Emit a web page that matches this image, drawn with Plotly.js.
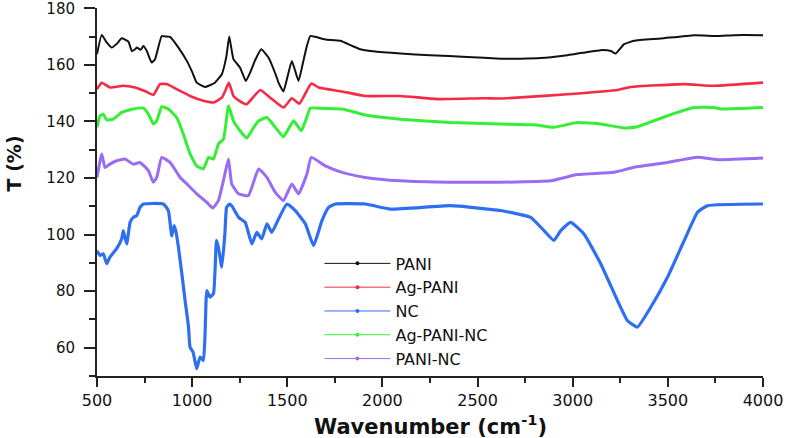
<!DOCTYPE html>
<html>
<head>
<meta charset="utf-8">
<script src="https://cdn.plot.ly/plotly-3.0.1.min.js"></script>
<style>html,body{margin:0;padding:0;background:#fff;}#chart{width:790px;height:438px;}</style>
</head>
<body>
<div id="chart"></div>
<script>
// ---- Data ----
const seriesNames = ["PANI", "Ag-PANI", "NC", "Ag-PANI-NC", "PANI-NC"];

const paniX = [500,525,550,577,605,630,665,683,700,709,730,744,762,787,805,840,860,884,928,972,1000,1024,1068,1100,1120,1156,1180,1195,1217,1252,1282,1305,1330,1363,1401,1445,1454,1480,1500,1524,1559,1580,1603,1621,1647,1700,1779,1840,1884,1950,2095,2250,2446,2621,2726,2832,2950,3059,3146,3200,3226,3270,3323,3463,3638,3761,3850,4000];
const paniY = [163.8,170.6,168.0,166.1,167.5,169.4,168.2,164.9,165.5,166.1,165.3,166.7,164.9,160.8,162.0,170.2,170.0,169.9,166.1,161.4,157.5,153.7,152.2,153.0,153.7,156.7,163.0,170.0,162.0,159.0,154.3,157.3,161.5,165.5,162.6,155.5,153.7,150.6,155.5,161.4,154.3,160.0,166.7,170.2,169.9,169.0,168.5,166.7,165.5,164.8,164.0,163.4,162.8,162.2,162.2,162.4,163.2,164.3,165.2,164.9,164.0,167.3,168.5,169.3,170.5,170.2,170.5,170.5];

const agPaniX = [500,525,568,638,700,726,760,796,831,866,919,989,1059,1112,1156,1175,1193,1217,1250,1287,1320,1358,1419,1480,1524,1563,1600,1626,1665,1788,1910,2095,2288,2533,2621,2726,2972,3235,3305,3586,3744,4000];
const agPaniY = [151.4,153.7,152.0,152.6,152.0,151.4,150.5,149.4,153.2,153.2,151.4,149.0,147.3,146.7,148.4,151.0,153.7,149.0,147.2,146.1,148.5,151.1,147.9,144.9,148.2,146.3,150.5,153.4,152.0,150.6,149.0,149.0,147.9,148.2,148.1,148.5,149.6,151.1,152.2,153.2,152.6,153.7];

const ncX = [500,516,533,551,568,603,630,638,656,674,691,709,726,744,849,875,893,905,915,928,946,963,981,989,1005,1024,1042,1059,1068,1077,1093,1112,1128,1138,1156,1172,1181,1196,1208,1244,1279,1314,1340,1366,1393,1419,1454,1498,1542,1595,1638,1682,1717,1753,1910,2042,2358,2621,2779,2849,2901,2937,2989,3059,3147,3235,3287,3340,3410,3498,3586,3656,3708,4000];
const ncY = [94.3,92.6,93.2,89.7,92.0,95.0,98.5,101.4,96.7,104.3,106.1,106.7,109.6,110.8,110.8,108.5,99.5,103.2,101.0,95.5,86.1,76.7,67.3,60.2,58.4,52.6,56.7,55.5,65.0,80.2,77.9,79.1,98.0,95.5,88.5,100.2,109.6,110.8,110.2,106.1,104.3,96.7,100.8,98.5,103.8,100.8,105.5,110.8,108.5,103.8,96.1,104.9,109.6,110.8,110.8,109.0,110.2,108.5,106.1,101.4,97.9,101.4,104.3,100.2,89.7,76.7,69.6,67.3,74.3,84.9,97.9,107.9,110.2,110.8];

const agPaniNcX = [500,516,533,551,586,630,691,744,770,796,814,840,875,919,954,989,1024,1059,1086,1112,1138,1165,1191,1217,1252,1287,1320,1349,1393,1437,1480,1533,1574,1600,1621,1665,1788,1910,2095,2358,2621,2796,2901,3024,3147,3270,3340,3498,3638,3744,3779,4000];
const agPaniNcY = [137.9,142.0,142.6,140.5,140.8,143.2,144.4,144.7,142.6,139.1,140.2,145.2,144.4,141.4,135.5,128.5,124.3,123.2,127.3,126.7,132.0,133.8,145.5,140.2,136.7,134.1,137.5,140.2,141.4,137.9,134.6,140.2,136.7,141.0,144.7,144.7,144.4,142.3,140.8,139.6,139.1,138.8,137.9,139.6,139.1,137.7,138.1,142.0,144.9,144.9,144.4,144.9];

const paniNcX = [500,525,542,568,603,647,691,726,770,796,814,840,884,937,972,1024,1077,1108,1138,1172,1191,1208,1244,1296,1349,1393,1437,1480,1524,1559,1603,1626,1700,1788,1910,2095,2358,2621,2884,3024,3217,3323,3498,3656,3761,4000];
const paniNcY = [120.2,128.5,123.7,124.9,126.1,126.7,124.9,125.5,122.6,118.5,120.2,127.3,125.5,120.2,117.9,114.4,111.4,109.4,112.0,121.4,126.7,117.9,114.4,113.8,123.2,120.2,114.9,112.0,117.9,114.4,121.4,127.3,124.3,122.0,120.2,119.0,118.5,118.5,119.0,121.2,122.0,123.8,125.5,127.3,126.5,127.1];

const xTicks = [500,1000,1500,2000,2500,3000,3500,4000];
const yTicks = [60,80,100,120,140,160,180];

// ---- Styles ----
const colors = {"PANI":"#111111","Ag-PANI":"#f52a45","NC":"#2e6ff2","Ag-PANI-NC":"#35ee35","PANI-NC":"#9a6cf2"};
const widths = {"PANI":2,"Ag-PANI":2.6,"NC":3.2,"Ag-PANI-NC":3,"PANI-NC":3};
const dataMap = {
  "PANI":[paniX,paniY],
  "Ag-PANI":[agPaniX,agPaniY],
  "NC":[ncX,ncY],
  "Ag-PANI-NC":[agPaniNcX,agPaniNcY],
  "PANI-NC":[paniNcX,paniNcY]
};
const drawOrder = ["NC","PANI-NC","Ag-PANI-NC","Ag-PANI","PANI"];
const traces = [];
drawOrder.forEach(n => {
  traces.push({x:dataMap[n][0], y:dataMap[n][1], type:'scatter', mode:'lines', name:n,
    line:{color:colors[n], width:widths[n], shape:'spline', smoothing:0.4}, showlegend:false, hoverinfo:'skip'});
});
// legend entries (thin line + small marker like the reference)
seriesNames.forEach(n => {
  traces.push({x:[null], y:[null], type:'scatter', mode:'lines+markers', name:n,
    line:{color:colors[n], width:1}, marker:{color:colors[n], size:4}, showlegend:true});
});

const FONT = 'DejaVu Sans, Liberation Sans, Arial, sans-serif';
const layout = {
  width:790, height:438,
  margin:{l:97, r:27, t:8, b:62, pad:0},
  paper_bgcolor:'#ffffff', plot_bgcolor:'#ffffff',
  showlegend:true,
  legend:{x:0.334, y:0.352, xanchor:'left', yanchor:'top', bgcolor:'rgba(0,0,0,0)',
    font:{family:FONT, size:16, color:'#111'}, itemwidth:66, tracegroupgap:0},
  xaxis:{range:[500,4000], tickvals:xTicks, ticktext:xTicks.map(String),
    showgrid:false, zeroline:false, showline:true, linewidth:2, linecolor:'#222',
    ticks:'outside', ticklen:9, tickwidth:2, tickcolor:'#222', ticklabeloverflow:'allow',
    minor:{dtick:250, tick0:500, ticks:'outside', ticklen:5, tickwidth:2, tickcolor:'#222'},
    tickfont:{family:FONT, size:16, color:'#111'}},
  yaxis:{range:[50,180.1], tickvals:yTicks, ticktext:yTicks.map(String),
    showgrid:false, zeroline:false, showline:true, linewidth:2, linecolor:'#222',
    ticks:'outside', ticklen:11, tickwidth:2, tickcolor:'#222', ticklabelstandoff:6,
    ticklabeloverflow:'allow',
    minor:{dtick:10, tick0:50, ticks:'outside', ticklen:6, tickwidth:2, tickcolor:'#222'},
    tickfont:{family:FONT, size:15, color:'#111'}},
  annotations:[
    {text:'<b>Wavenumber (cm<sup>-1</sup>)</b>', xref:'paper', yref:'paper', x:0.5, y:-0.132,
      xanchor:'center', yanchor:'middle', showarrow:false, font:{family:FONT, size:21, color:'#111'}},
    {text:'<b>T (%)</b>', xref:'paper', yref:'paper', x:-0.125, y:0.577, textangle:-90,
      xanchor:'center', yanchor:'middle', showarrow:false, font:{family:FONT, size:19, color:'#111'}}
  ]
};
Plotly.newPlot('chart', traces, layout, {displayModeBar:false, staticPlot:true});
</script>
</body>
</html>
